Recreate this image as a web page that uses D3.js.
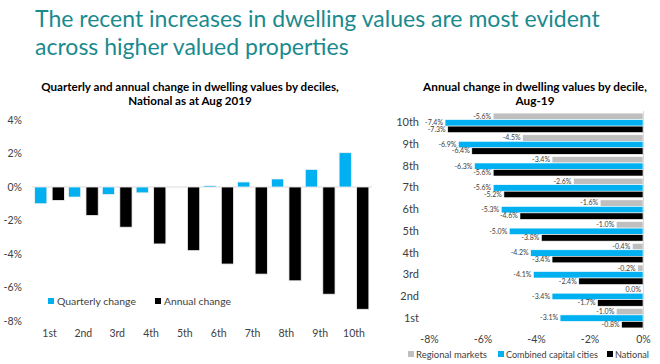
<!DOCTYPE html>
<html>
<head>
<meta charset="utf-8">
<script src="https://cdn.jsdelivr.net/npm/d3@7"></script>
<style>
  body { margin: 0; background: #fff; }
  svg { font-family: Lato, "Open Sans", sans-serif; }
</style>
</head>
<body>
<div id="chart"></div>
<script>
// deciles and values
const deciles = ["1st", "2nd", "3rd", "4th", "5th", "6th", "7th", "8th", "9th", "10th"];
const quarterly = [-1.0, -0.6, -0.45, -0.35, -0.05, 0.08, 0.3, 0.48, 1.05, 2.05];
const annual = [-0.8, -1.7, -2.4, -3.4, -3.8, -4.6, -5.2, -5.6, -6.4, -7.3];

const regional = [-1.0, 0.0, -0.2, -0.4, -1.0, -1.6, -2.6, -3.4, -4.5, -5.6];
const capitals = [-3.1, -3.4, -4.1, -4.2, -5.0, -5.3, -5.6, -6.3, -6.9, -7.4];
const national = [-0.8, -1.7, -2.4, -3.4, -3.8, -4.6, -5.2, -5.6, -6.4, -7.3];

const leftTicks = [-8, -6, -4, -2, 0, 2, 4];
const rightTicks = [-8, -6, -4, -2, 0];

const teal = "#1a8a8f";
const blue = "#00b0f0";
const grey = "#bfbfbf";
const textCol = "#404040";

const width = 660, height = 364;

const svg = d3.select("#chart")
    .append("svg")
    .attr("width", width)
    .attr("height", height);

// squeeze or stretch a text so it spans a given width
function fitText(sel, target) {
    let node = sel.node();
    let fs = parseFloat(sel.attr("font-size"));
    let w = node.getComputedTextLength();
    sel.attr("font-size", fs * target / w);
}

// main title
let t1 = svg.append("text")
    .attr("x", 35).attr("y", 27)
    .attr("font-size", 23)
    .attr("fill", teal)
    .text("The recent increases in dwelling values are most evident");
fitText(t1, 565);
let t2 = svg.append("text")
    .attr("x", 35).attr("y", 55)
    .attr("font-size", t1.attr("font-size"))
    .attr("fill", teal)
    .text("across higher valued properties");

// chart titles
let lt1 = svg.append("text")
    .attr("x", 190).attr("y", 91)
    .attr("text-anchor", "middle")
    .attr("font-size", 11).attr("font-weight", "bold")
    .text("Quarterly and annual change in dwelling values by deciles,");
fitText(lt1, 298);
svg.append("text")
    .attr("x", 190).attr("y", 105)
    .attr("text-anchor", "middle")
    .attr("font-size", lt1.attr("font-size")).attr("font-weight", "bold")
    .text("National as at Aug 2019");

let rt1 = svg.append("text")
    .attr("x", 535).attr("y", 91)
    .attr("text-anchor", "middle")
    .attr("font-size", 11).attr("font-weight", "bold")
    .text("Annual change in dwelling values by decile,");
fitText(rt1, 224);
svg.append("text")
    .attr("x", 535).attr("y", 105)
    .attr("text-anchor", "middle")
    .attr("font-size", rt1.attr("font-size")).attr("font-weight", "bold")
    .text("Aug-19");

// ---------- left chart: quarterly and annual by decile ----------
const x = d3.scaleBand()
    .domain(deciles)
    .range([32.6, 370.9])
    .paddingInner(0.12)
    .paddingOuter(0.06);

const xSub = d3.scaleBand()
    .domain(["q", "a"])
    .range([0, x.bandwidth()])
    .paddingInner(0.3);

const y = d3.scaleLinear()
    .domain([-8, 4])
    .range([321, 120]);

// zero line
svg.append("line")
    .attr("x1", 32).attr("x2", 372)
    .attr("y1", y(0)).attr("y2", y(0))
    .attr("stroke", "#d9d9d9");

let leftData = deciles.map((d, i) => ({decile: d, q: quarterly[i], a: annual[i]}));

let groups = svg.selectAll(".grp")
    .data(leftData)
    .enter()
    .append("g")
    .attr("transform", d => "translate(" + x(d.decile) + ",0)");

groups.append("rect")
    .attr("x", xSub("q"))
    .attr("y", d => y(Math.max(0, d.q)))
    .attr("height", d => Math.abs(y(d.q) - y(0)))
    .attr("width", xSub.bandwidth())
    .attr("fill", blue)
    .attr("stroke", "#f2f2f2").attr("stroke-width", 0.8);

groups.append("rect")
    .attr("x", xSub("a"))
    .attr("y", d => y(Math.max(0, d.a)))
    .attr("height", d => Math.abs(y(d.a) - y(0)))
    .attr("width", xSub.bandwidth())
    .attr("fill", "#000")
    .attr("stroke", "#f2f2f2").attr("stroke-width", 0.8);

// y axis labels
let yAxis = svg.append("g")
    .attr("transform", "translate(22,0)")
    .call(d3.axisLeft(y).tickValues(leftTicks).tickFormat(d => d + "%").tickSize(0).tickPadding(0));
yAxis.select(".domain").remove();
yAxis.selectAll("text")
    .attr("font-family", "Lato, sans-serif")
    .attr("font-size", 10.5)
    .attr("fill", textCol);

// x axis labels
let xAxis = svg.append("g")
    .attr("transform", "translate(0,330)")
    .call(d3.axisBottom(x).tickSize(0).tickPadding(0));
xAxis.select(".domain").remove();
xAxis.selectAll("text")
    .attr("font-family", "Lato, sans-serif")
    .attr("font-size", 10.5)
    .attr("fill", textCol);

// left legend
const leftLegend = [
    {label: "Quarterly change", color: blue, x: 48, w: 79},
    {label: "Annual change", color: "#000", x: 155, w: 67}
];
for (let l of leftLegend) {
    svg.append("rect")
        .attr("x", l.x).attr("y", 298)
        .attr("width", 6).attr("height", 6)
        .attr("fill", l.color);
    let lt = svg.append("text")
        .attr("x", l.x + 9).attr("y", 305)
        .attr("font-size", 11)
        .attr("fill", textCol)
        .text(l.label);
    fitText(lt, l.w);
}

// ---------- right chart: annual by decile and region ----------
const xr = d3.scaleLinear()
    .domain([-8, 0])
    .range([429, 643]);

const yr = d3.scaleBand()
    .domain(deciles.slice().reverse())
    .range([112, 329])
    .paddingInner(0.1)
    .paddingOuter(0.05);

const series = ["regional", "capitals", "national"];
const seriesColor = {regional: grey, capitals: blue, national: "#000"};

const ySub = d3.scaleBand()
    .domain(series)
    .range([0, yr.bandwidth()]);

let rightData = deciles.map((d, i) => ({
    decile: d,
    vals: [
        {s: "regional", v: regional[i]},
        {s: "capitals", v: capitals[i]},
        {s: "national", v: national[i]}
    ]
}));

let rows = svg.selectAll(".row")
    .data(rightData)
    .enter()
    .append("g")
    .attr("transform", d => "translate(0," + yr(d.decile) + ")");

rows.selectAll("rect")
    .data(d => d.vals)
    .enter()
    .append("rect")
    .attr("x", d => xr(d.v))
    .attr("y", d => ySub(d.s))
    .attr("width", d => xr(0) - xr(d.v))
    .attr("height", ySub.bandwidth())
    .attr("fill", d => seriesColor[d.s])
    .attr("stroke", "#fff").attr("stroke-width", 0.6);

rows.selectAll(".lbl")
    .data(d => d.vals)
    .enter()
    .append("text")
    .attr("x", d => xr(d.v) - 2)
    .attr("y", d => ySub(d.s) + ySub.bandwidth() / 2)
    .attr("dy", "0.33em")
    .attr("text-anchor", "end")
    .attr("font-size", 7)
    .attr("fill", textCol)
    .text(d => d.v.toFixed(1) + "%");

// zero line
svg.append("line")
    .attr("x1", xr(0) + 0.5).attr("x2", xr(0) + 0.5)
    .attr("y1", 111).attr("y2", 330)
    .attr("stroke", "#d9d9d9");

// row labels
let yrAxis = svg.append("g")
    .attr("transform", "translate(419,0)")
    .call(d3.axisLeft(yr).tickSize(0).tickPadding(0));
yrAxis.select(".domain").remove();
yrAxis.selectAll("text")
    .attr("font-family", "Lato, sans-serif")
    .attr("font-size", 11)
    .attr("fill", textCol);

// x labels
let xrAxis = svg.append("g")
    .attr("transform", "translate(0,336)")
    .call(d3.axisBottom(xr).tickValues(rightTicks).tickFormat(d => d + "%").tickSize(0).tickPadding(0));
xrAxis.select(".domain").remove();
xrAxis.selectAll("text")
    .attr("font-family", "Lato, sans-serif")
    .attr("font-size", 10.5)
    .attr("fill", textCol);

// right legend
const rightLegend = [
    {label: "Regional markets", color: grey, x: 408, w: 71},
    {label: "Combined capital cities", color: blue, x: 498, w: 92},
    {label: "National", color: "#000", x: 607, w: 34}
];
for (let l of rightLegend) {
    svg.append("rect")
        .attr("x", l.x).attr("y", 351)
        .attr("width", 6).attr("height", 6)
        .attr("fill", l.color);
    let lt = svg.append("text")
        .attr("x", l.x + 8).attr("y", 357.5)
        .attr("font-size", 10)
        .attr("fill", textCol)
        .text(l.label);
    fitText(lt, l.w);
}
</script>
</body>
</html>
